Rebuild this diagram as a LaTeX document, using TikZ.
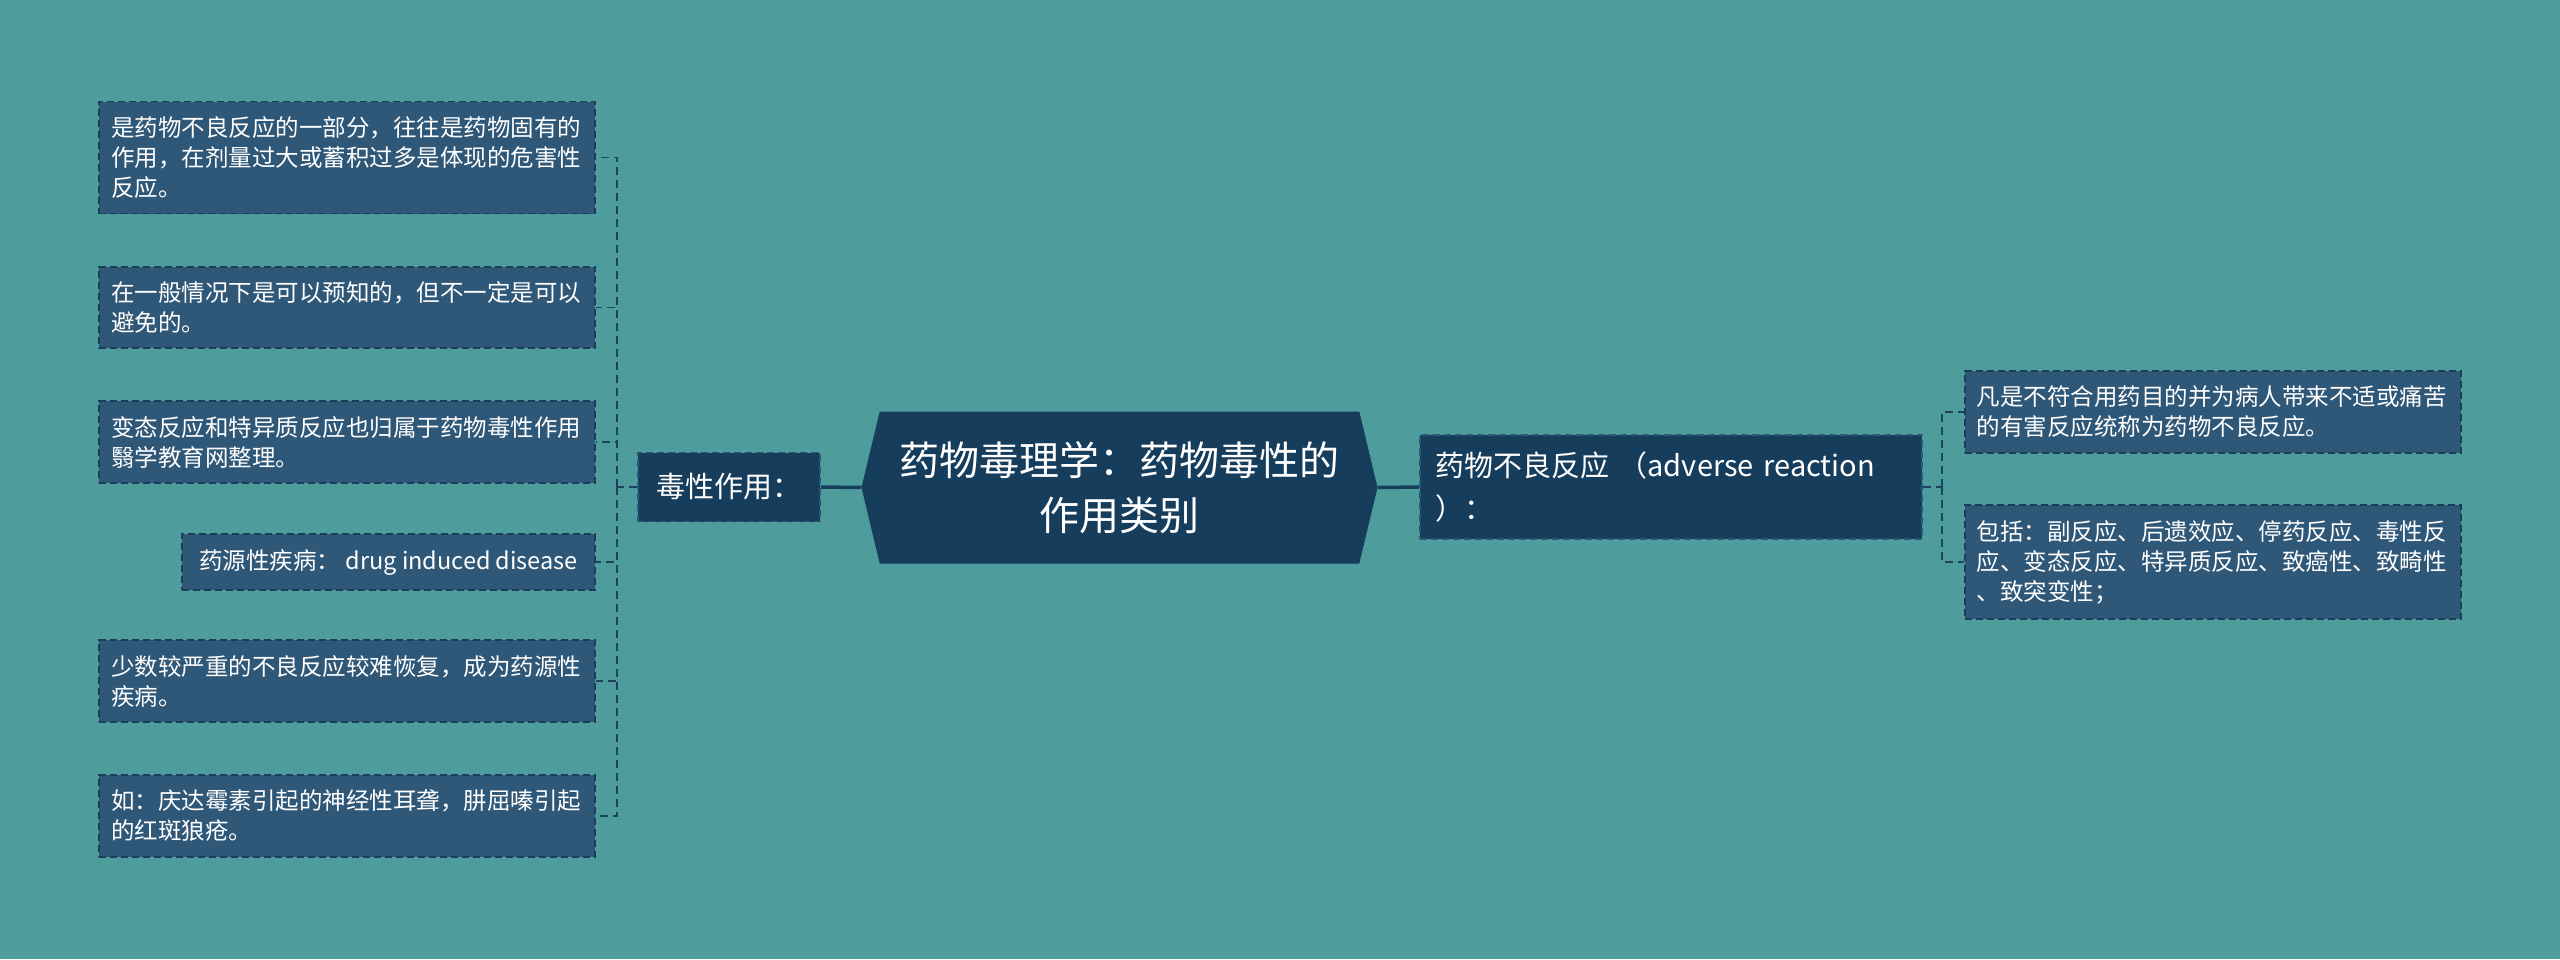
\documentclass[tikz,border=0pt]{standalone}
\usepackage{fontspec}
\setmainfont{Noto Sans CJK SC}
\usetikzlibrary{shapes.symbols}
\definecolor{mapbg}{RGB}{78,157,156}
\definecolor{leaffill}{RGB}{47,87,119}
\definecolor{leafline}{RGB}{26,62,90}
\definecolor{topicfill}{RGB}{23,61,93}
\definecolor{topicline}{RGB}{42,88,118}
\definecolor{linkline}{RGB}{28,68,96}

\begin{document}
\begin{tikzpicture}[x=1pt,y=-1pt]
 \tikzset{leaf box/.style={
    draw=leafline, fill=leaffill,
    dash pattern=on 7pt off 4pt, line width=1.8pt,
    text=white, align=left,
    font=\fontsize{23.5pt}{30pt}\selectfont,
    inner xsep=12pt, inner ysep=15pt
  },
  long leaf/.style={leaf box, text width=472pt},
  topic box/.style={
    draw=topicline, fill=topicfill,
    dash pattern=on 7pt off 4pt, line width=1.8pt,
    text=white, align=left,
    font=\fontsize{29pt}{43pt}\selectfont
  },
  root box/.style={
    signal, signal to=west and east, signal pointer angle=153,
    fill=topicfill, draw=topicfill, line width=1pt,
    text=white, align=center,
    font=\fontsize{40pt}{55pt}\selectfont,
    minimum width=515pt, minimum height=151pt
  },
  dash link/.style={draw=linkline, line width=1.6pt, dash pattern=on 8pt off 5pt},
  main link/.style={draw=topicfill, line width=3.5pt}
}
\fill[mapbg] (0,0) rectangle (2560,959);
\useasboundingbox (0,0) rectangle (2560,959);

\node[root box] (root) at (1119.5,487.5) {药物毒理学：药物毒性的\\作用类别};
\node[topic box, minimum width=182pt, minimum height=69pt] (tox) at (729,487) {毒性作用：};
\node[topic box, text width=472pt, inner xsep=15pt, inner ysep=17pt] (adr) at (1671,487)
  {药物不良反应 （adverse reaction\\）：};

\node[long leaf, anchor=east] (l1) at (596,157.5)
  {是药物不良反应的一部分，往往是药物固有的\\作用，在剂量过大或蓄积过多是体现的危害性\\反应。};
\node[long leaf, anchor=east] (l2) at (596,307.5)
  {在一般情况下是可以预知的，但不一定是可以\\避免的。};
\node[long leaf, anchor=east] (l3) at (596,442)
  {变态反应和特异质反应也归属于药物毒性作用\\翳学教育网整理。};
\node[leaf box, anchor=east, minimum width=413pt] (l4) at (596,562)
  {药源性疾病： drug induced disease};
\node[long leaf, anchor=east] (l5) at (596,681)
  {少数较严重的不良反应较难恢复，成为药源性\\疾病。};
\node[long leaf, anchor=east] (l6) at (596,816)
  {如：庆达霉素引起的神经性耳聋，肼屈嗪引起\\的红斑狼疮。};

\node[long leaf, anchor=west] (r1) at (1964,412)
  {凡是不符合用药目的并为病人带来不适或痛苦\\的有害反应统称为药物不良反应。};
\node[long leaf, anchor=west] (r2) at (1964,562)
  {包括：副反应、后遗效应、停药反应、毒性反\\应、变态反应、特异质反应、致癌性、致畸性\\、致突变性；};

\coordinate (lj) at (617,487);
\coordinate (rj) at (1942,487);

\draw[main link] (tox.east) -- (root.west);
\draw[main link] (root.east) -- (adr.west);
\draw[dash link] (tox.west) -- (lj);
\foreach \n in {l1,l2,l3,l4,l5,l6}
  \draw[dash link] (lj) |- (\n.east);
\draw[dash link] (adr.east) -- (rj);
\foreach \n in {r1,r2}
  \draw[dash link] (rj) |- (\n.west);
\end{tikzpicture}
\end{document}
